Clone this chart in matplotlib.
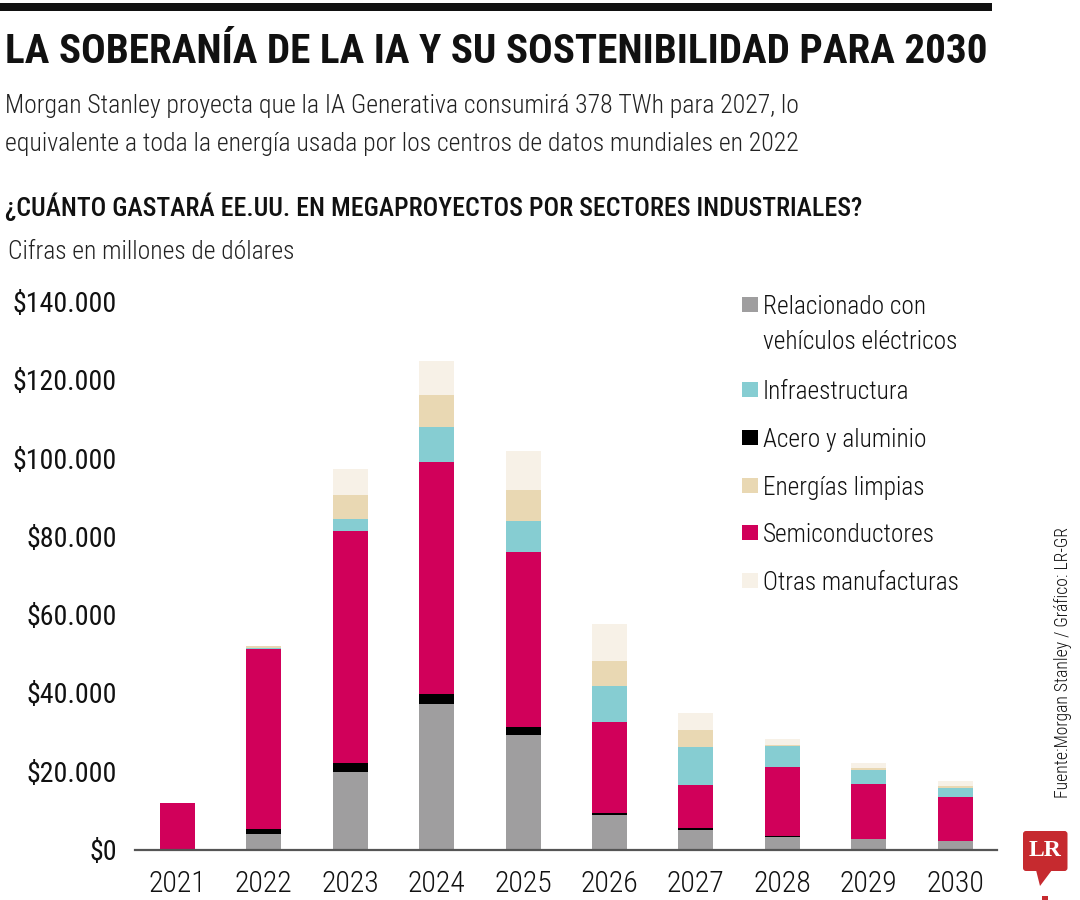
import os
import numpy as np
import matplotlib
matplotlib.use("Agg")
import matplotlib.pyplot as plt
from matplotlib import font_manager as fm
from matplotlib.patches import Rectangle, FancyBboxPatch, Polygon
from matplotlib.transforms import Affine2D

# ---------------- data (millones de dólares) ----------------
years = ["2021", "2022", "2023", "2024", "2025", "2026", "2027", "2028", "2029", "2030"]
vehiculos = [0, 4000, 19700, 37200, 29300, 8800, 5000, 3100, 2700, 2100]
acero = [0, 1300, 2300, 2600, 1900, 400, 400, 300, 0, 0]
semiconductores = [11800, 45800, 59400, 59300, 44700, 23400, 11200, 17700, 14000, 11400]
infraestructura = [0, 300, 3100, 8800, 8100, 9200, 9600, 5300, 3700, 2300]
energias = [0, 700, 6000, 8100, 7800, 6400, 4400, 400, 400, 400]
otras = [0, 0, 6600, 8900, 10000, 9300, 4300, 1500, 1300, 1400]
yticks = [0, 20000, 40000, 60000, 80000, 100000, 120000, 140000]

series_stack = [  # bottom -> top
    ("Relacionado con\nvehículos eléctricos", vehiculos, "#9f9e9f"),
    ("Acero y aluminio", acero, "#000000"),
    ("Semiconductores", semiconductores, "#d1005a"),
    ("Infraestructura", infraestructura, "#86cdd2"),
    ("Energías limpias", energias, "#e9d8b3"),
    ("Otras manufacturas", otras, "#f7f1e7"),
]
legend_order = [0, 3, 1, 4, 2, 5]

# ---------------- fonts ----------------
files = {}
for f in fm.fontManager.ttflist:
    files[os.path.basename(f.fname).lower()] = f.fname


def pick(cands, fallback_weight):
    for c in cands:
        if c in files:
            return fm.FontProperties(fname=files[c])
    return fm.FontProperties(family=["Roboto", "DejaVu Sans"], weight=fallback_weight)


REG = ["liberationsansnarrow-regular.ttf", "robotocondensed-regular.ttf",
       "notosans-condensed.ttf", "notosans-condensedregular.ttf",
       "opensans_condensed-regular.ttf", "dejavusanscondensed.ttf"]
LIGHT = ["robotocondensed-light.ttf", "notosans-condensedlight.ttf",
         "opensans_condensed-light.ttf", "opensans-condlight.ttf"] + REG
BOLD = ["liberationsansnarrow-bold.ttf", "robotocondensed-bold.ttf",
        "notosans-condensedbold.ttf", "opensans_condensed-bold.ttf",
        "dejavusanscondensed-bold.ttf"]
MED = ["robotocondensed-medium.ttf", "notosans-condensedmedium.ttf"] + REG

fp_reg = pick(REG, "normal")
fp_light = pick(LIGHT, "light")
fp_bold = pick(BOLD, "bold")
fp_med = pick(MED, "medium")

W, H = 1080, 900
fig = plt.figure(figsize=(W / 100, H / 100), dpi=100)
fig.patch.set_facecolor("white")
renderer = fig.canvas.get_renderer()
T = Affine2D().scale(1, -1).translate(0, H)  # pixel coords from top-left


def size_for(s, target_w, fp, max_size):
    p = fp.copy()
    p.set_size(20)
    t = fig.text(0, 0, s, fontproperties=p)
    w = t.get_window_extent(renderer).width
    t.remove()
    return min(20 * target_w / w, max_size)


def put(x, y, s, fp, size, **kw):
    p = fp.copy()
    p.set_size(size)
    return fig.text(x / W, 1 - y / H, s, fontproperties=p, **kw)


# ---------------- header ----------------
fig.patches.append(Rectangle((0, 3), 992, 8, transform=T, color="#111111", lw=0))

title = "LA SOBERANÍA DE LA IA Y SU SOSTENIBILIDAD PARA 2030"
put(5, 63, title, fp_bold, size_for(title, 983, fp_bold, 30), va="baseline", color="#111111")

sub1 = "Morgan Stanley proyecta que la IA Generativa consumirá 378 TWh para 2027, lo"
sub2 = "equivalente a toda la energía usada por los centros de datos mundiales en 2022"
s_sub = min(size_for(sub1, 800, fp_light, 22), size_for(sub2, 793, fp_light, 22))
put(5, 113, sub1, fp_light, s_sub, va="baseline", color="#222222")
put(5, 151, sub2, fp_light, s_sub, va="baseline", color="#222222")

q = "¿CUÁNTO GASTARÁ EE.UU. EN MEGAPROYECTOS POR SECTORES INDUSTRIALES?"
put(5, 216, q, fp_med, size_for(q, 857, fp_med, 24), va="baseline", color="#111111")
cif = "Cifras en millones de dólares"
put(8, 259, cif, fp_light, size_for(cif, 285, fp_light, 21), va="baseline", color="#222222")

# ---------------- chart ----------------
ax = fig.add_axes([135 / W, 1 - 849.5 / H, (997 - 135) / W, (849.5 - 301.4) / H])
x = np.arange(len(years))
bottom = np.zeros(len(years))
for name, vals, col in series_stack:
    v = np.array(vals, dtype=float)
    ax.bar(x, v, bottom=bottom, width=0.405, color=col, linewidth=0, zorder=1)
    bottom += v

ax.set_xlim(-0.49, 9.485)
ax.set_ylim(0, 140000)
for sp in ["left", "right", "top"]:
    ax.spines[sp].set_visible(False)
ax.spines["bottom"].set_color("#555555")
ax.spines["bottom"].set_linewidth(1.6)
ax.spines["bottom"].set_zorder(3)

ax.set_yticks(yticks)
ylabels = ["$" + f"{v:,}".replace(",", ".") for v in yticks]
ax.set_yticklabels(ylabels)
ax.set_xticks(x)
ax.set_xticklabels(years)
ax.tick_params(axis="both", length=0)
ax.tick_params(axis="y", pad=13)
ax.tick_params(axis="x", pad=15)

s_y = size_for("$140.000", 104, fp_reg, 21)
for lab in ax.get_yticklabels():
    p = fp_reg.copy(); p.set_size(s_y)
    lab.set_fontproperties(p)
    lab.set_color("#111111")
s_x = size_for("2021", 58, fp_light, 28)
for lab in ax.get_xticklabels():
    p = fp_light.copy(); p.set_size(s_x)
    lab.set_fontproperties(p)
    lab.set_color("#111111")

# ---------------- legend ----------------
leg_y = [304, 389, 437, 485, 532, 580]
s_leg = size_for("Otras manufacturas", 196, fp_light, 22)
for yy, idx in zip(leg_y, legend_order):
    name, _, col = series_stack[idx]
    fig.patches.append(Rectangle((741.5, yy - 7), 16.5, 15, transform=T, color=col, lw=0))
    if "\n" in name:
        l1, l2 = name.split("\n")
        put(763, yy + 10, l1, fp_light, s_leg, va="baseline", color="#111111")
        put(763, yy + 45, l2, fp_light, s_leg, va="baseline", color="#111111")
    else:
        put(763, yy + 10, name, fp_light, s_leg, va="baseline", color="#111111")

# ---------------- source & logo ----------------
src = "Fuente:Morgan Stanley / Gráfico: LR-GR"
put(1063, 663, src, fp_light, size_for(src, 270, fp_light, 14), rotation=90,
    ha="center", va="center", color="#111111")

fig.patches.append(FancyBboxPatch((1023, 831), 44.5, 40, boxstyle="round,pad=0,rounding_size=3",
                                  transform=T, color="#c62a2f", lw=0))
fig.patches.append(Polygon([(1036, 870), (1052, 870), (1040, 886)], closed=True,
                           transform=T, color="#c62a2f", lw=0))
fig.text(1045.5 / W, 1 - 851 / H, "LR", family=["Liberation Serif", "DejaVu Serif"],
         weight="bold", fontsize=17, color="white", ha="center", va="center")
fig.patches.append(Rectangle((1042, 896), 6, 4, transform=T, color="#c62a2f", lw=0))

fig.savefig("out.png", dpi=100, facecolor="white")
